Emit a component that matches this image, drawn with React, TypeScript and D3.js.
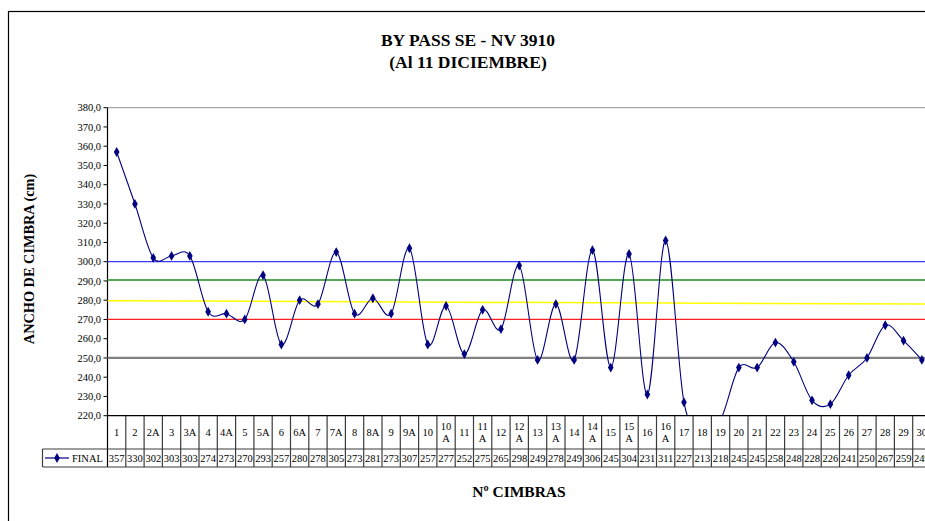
import React from "react";
import * as d3 from "d3";

// Arch (cimbra) identifiers along the tunnel
const categories = [
  "1", "2", "2A", "3", "3A", "4", "4A", "5", "5A", "6", "6A", "7", "7A", "8", "8A",
  "9", "9A", "10", "10A", "11", "11A", "12", "12A", "13", "13A", "14", "14A", "15",
  "15A", "16", "16A", "17", "18", "19", "20", "21", "22", "23", "24", "25", "26",
  "27", "28", "29", "30",
];

// Measured final width (cm) for each arch
const finalValues = [
  357, 330, 302, 303, 303, 274, 273, 270, 293, 257, 280, 278, 305, 273, 281, 273,
  307, 257, 277, 252, 275, 265, 298, 249, 278, 249, 306, 245, 304, 231, 311, 227,
  213, 218, 245, 245, 258, 248, 228, 226, 241, 250, 267, 259, 249,
];

// Horizontal reference levels (cm): upper, second, lower, minimum
const referenceLevels = [300, 290.5, 270, 250];
// Sloped reference: value at the left and right edges of the plot
const slopedLevel = [279.7, 278];

const yTicks = d3.range(220, 381, 10);
const yDomain = [220, 380];

const W = 925;
const H = 521;
const plotLeft = 107.5;
const bandW = 18.3;
const plotTop = 107.7;
const plotBottom = 415.7;
const rowSplit = 449;
const tableBottom = 467;
const legendLeft = 42.5;

const refColors = ["#3a3aff", "#55aa55", "#ff2020", "#808080"];
const refWidths = [1.3, 2, 1.3, 2.2];

export default function App() {
  const plotRight = plotLeft + bandW * categories.length;
  const x = d3
    .scaleBand<string>()
    .domain(categories)
    .range([plotLeft, plotRight])
    .paddingInner(0)
    .paddingOuter(0);
  const y = d3.scaleLinear().domain(yDomain).range([plotBottom, plotTop]);
  const cx = (c: string) => (x(c) as number) + x.bandwidth() / 2;

  const line = d3
    .line<number>()
    .x((_, i) => cx(categories[i]))
    .y((v) => y(v))
    .curve(d3.curveCardinal.tension(0));

  const diamond = d3.symbol().type(d3.symbolDiamond).size(28)() as string;
  const font = "Liberation Serif, Times New Roman, DejaVu Serif, serif";
  const gridColor = "#3c3c3c";

  return (
    <svg
      width={W}
      height={H}
      style={{ position: "absolute", left: 0, top: 0, background: "#fff", fontFamily: font }}
    >
      <defs>
        <clipPath id="plotClip">
          <rect x={plotLeft} y={plotTop} width={plotRight - plotLeft} height={plotBottom - plotTop} />
        </clipPath>
      </defs>

      {/* chart frame */}
      <rect x={8.5} y={11.5} width={W + 20} height={H + 20} fill="none" stroke="#000" strokeWidth={1.2} />

      {/* titles */}
      <text x={468} y={46} textAnchor="middle" fontSize={17.5} fontWeight="bold">
        BY PASS SE - NV 3910
      </text>
      <text x={468} y={68} textAnchor="middle" fontSize={17.5} fontWeight="bold">
        (Al 11 DICIEMBRE)
      </text>

      {/* plot top border */}
      <line x1={plotLeft} x2={plotRight} y1={plotTop} y2={plotTop} stroke="#909090" strokeWidth={1} />

      {/* y axis */}
      <line x1={plotLeft} x2={plotLeft} y1={plotTop} y2={tableBottom} stroke="#000" strokeWidth={1.2} />
      {yTicks.map((t) => (
        <g key={t}>
          <line x1={plotLeft - 4} x2={plotLeft} y1={y(t)} y2={y(t)} stroke="#000" strokeWidth={1} />
          <text x={101} y={y(t)} dy="0.35em" textAnchor="end" fontSize={10.5}>
            {t.toFixed(1).replace(".", ",")}
          </text>
        </g>
      ))}
      <text
        transform={`translate(34, 259) rotate(-90)`}
        textAnchor="middle"
        fontSize={14.3}
        fontWeight="bold"
      >
        ANCHO DE CIMBRA (cm)
      </text>

      {/* reference levels */}
      {referenceLevels.map((v, i) => (
        <line
          key={v}
          x1={plotLeft}
          x2={plotRight}
          y1={y(v)}
          y2={y(v)}
          stroke={refColors[i]}
          strokeWidth={refWidths[i]}
        />
      ))}
      <line
        x1={plotLeft}
        x2={plotRight}
        y1={y(slopedLevel[0])}
        y2={y(slopedLevel[1])}
        stroke="#ffff00"
        strokeWidth={1.5}
      />

      {/* measured series */}
      <g clipPath="url(#plotClip)">
        <path d={line(finalValues) as string} fill="none" stroke="#000080" strokeWidth={1.1} />
        {finalValues.map((v, i) => (
          <path
            key={i}
            d={diamond}
            transform={`translate(${cx(categories[i])},${y(v)})`}
            fill="#000080"
          />
        ))}
      </g>

      {/* data table */}
      <line x1={plotLeft} x2={plotRight} y1={plotBottom} y2={plotBottom} stroke="#000" strokeWidth={1.2} />
      <line x1={legendLeft} x2={plotRight} y1={rowSplit} y2={rowSplit} stroke={gridColor} strokeWidth={1.2} />
      <line x1={legendLeft} x2={plotRight} y1={tableBottom} y2={tableBottom} stroke={gridColor} strokeWidth={1.2} />
      <line x1={legendLeft} x2={legendLeft} y1={rowSplit} y2={tableBottom} stroke={gridColor} strokeWidth={1.2} />
      {categories.map((c, i) => {
        const x0 = x(c) as number;
        const twoLine = c.length > 2;
        return (
          <g key={c}>
            <line
              x1={x0 + bandW}
              x2={x0 + bandW}
              y1={plotBottom}
              y2={tableBottom}
              stroke={gridColor}
              strokeWidth={1.2}
            />
            {twoLine ? (
              <>
                <text x={cx(c)} y={426} dy="0.35em" textAnchor="middle" fontSize={10.5}>
                  {c.slice(0, 2)}
                </text>
                <text x={cx(c)} y={438} dy="0.35em" textAnchor="middle" fontSize={10.5}>
                  {c.slice(2)}
                </text>
              </>
            ) : (
              <text x={cx(c)} y={432} dy="0.35em" textAnchor="middle" fontSize={10.5}>
                {c}
              </text>
            )}
            <text x={cx(c)} y={458} dy="0.35em" textAnchor="middle" fontSize={10.5}>
              {finalValues[i]}
            </text>
          </g>
        );
      })}

      {/* legend key */}
      <line x1={45} x2={69} y1={458} y2={458} stroke="#000080" strokeWidth={1.2} />
      <path d={diamond} transform="translate(57,458)" fill="#000080" />
      <text x={72} y={458} dy="0.35em" fontSize={10.5}>
        FINAL
      </text>

      <text x={519} y={497} textAnchor="middle" fontSize={15.5} fontWeight="bold">
        Nº CIMBRAS
      </text>
    </svg>
  );
}
